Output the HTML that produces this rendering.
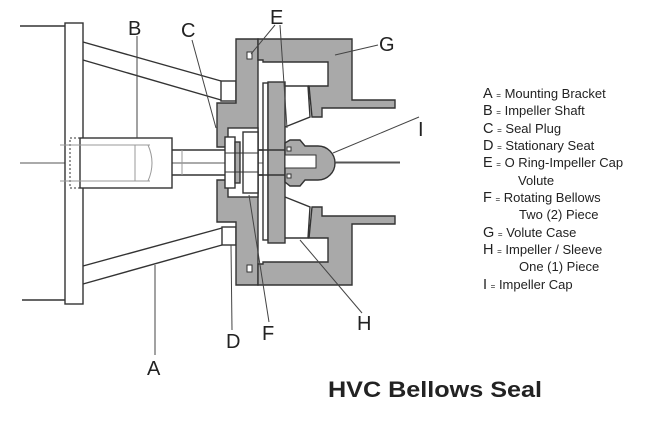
<!DOCTYPE html>
<html><head><meta charset="utf-8"><style>
html,body{margin:0;padding:0;background:#fff;}
svg{display:block;}
text{font-family:"Liberation Sans",sans-serif;fill:#222;}
</style></head><body>
<svg width="650" height="422" viewBox="0 0 650 422" xmlns="http://www.w3.org/2000/svg">
<g stroke="#333" stroke-width="1.4" fill="none">
<line x1="20" y1="163" x2="400" y2="163" stroke="#555" stroke-width="1"/>
<line x1="20" y1="26" x2="65" y2="26"/>
<line x1="22" y1="300" x2="65" y2="300"/>
<rect x="65" y="23" width="18" height="281" fill="#fff"/>
<line x1="83" y1="42" x2="221" y2="81"/>
<line x1="83" y1="60" x2="221" y2="100"/>
<line x1="83" y1="266" x2="222" y2="228"/>
<line x1="83" y1="284" x2="222" y2="245"/>
<rect x="221" y="81" width="15" height="20" fill="#fff"/>
<rect x="222" y="227" width="14" height="18" fill="#fff"/>
<rect x="80" y="138" width="92" height="50" fill="#fff"/>
<rect x="70" y="138" width="10" height="50" stroke-dasharray="2,2" stroke-width="1"/>
<line x1="60" y1="145" x2="150" y2="145" stroke="#999" stroke-width="1"/>
<line x1="60" y1="181" x2="150" y2="181" stroke="#999" stroke-width="1"/>
<line x1="135" y1="145" x2="135" y2="181" stroke="#999" stroke-width="1"/>
<path d="M148 145 Q156 163 148 181" stroke="#999" stroke-width="1"/>
<line x1="172" y1="150" x2="290" y2="150"/>
<line x1="172" y1="175" x2="290" y2="175"/>
<line x1="182" y1="150" x2="182" y2="175" stroke="#999" stroke-width="1"/>
<polygon fill="#a9a9a9" points="236,39 258,39 258,285 236,285 236,222 217,222 217,180 226,180 226,147 217,147 217,103 236,103"/>
<rect x="228" y="128" width="30" height="69" fill="#fff"/>
<rect x="225" y="137" width="10" height="51" fill="#fff"/>
<rect x="235" y="142" width="5" height="41" fill="#a9a9a9"/>
<rect x="243" y="132" width="15" height="61" fill="#fff"/>
<line x1="225" y1="153" x2="258" y2="153" stroke-width="1"/>
<line x1="225" y1="172" x2="258" y2="172" stroke-width="1"/>
<polygon fill="#a9a9a9" points="258,39 352,39 352,100 395,100 395,108 322,108 322,117 312,117 309,86 328,86 328,62 263,62 263,60 258,60"/>
<polygon fill="#a9a9a9" points="258,285 352,285 352,224 395,224 395,216 322,216 322,207 312,207 309,238 328,238 328,262 263,262 263,264 258,264"/>
<rect x="247" y="52" width="5" height="7" fill="#fff" stroke-width="1"/>
<rect x="247" y="265" width="5" height="7" fill="#fff" stroke-width="1"/>
<rect x="263" y="83" width="5" height="157" fill="#fff"/>
<rect x="268" y="82" width="17" height="161" fill="#a9a9a9"/>
<polyline points="285,86 308,86 310,117 285,127"/>
<polyline points="285,238 308,238 310,207 285,197"/>
<line x1="258" y1="150" x2="290" y2="150"/>
<line x1="258" y1="175" x2="290" y2="175"/>
<path fill="#a9a9a9" d="M285 143 L290 140 L300 140 L305 146 L318 146 A17 17 0 0 1 318 180 L305 180 L300 186 L290 186 L285 182 Z"/>
<rect x="285" y="155" width="31" height="13" fill="#fff" stroke-width="1"/>
<rect x="287" y="147" width="4" height="4" fill="#fff" stroke-width="1"/>
<rect x="287" y="174" width="4" height="4" fill="#fff" stroke-width="1"/>
<line x1="335" y1="162" x2="400" y2="162" stroke="#555" stroke-width="1"/>
<g stroke="#444" stroke-width="1">
<line x1="137" y1="36" x2="137" y2="138"/>
<line x1="192" y1="40" x2="216" y2="128"/>
<line x1="275" y1="25" x2="251" y2="54"/>
<line x1="280" y1="25" x2="287" y2="128"/>
<line x1="378" y1="45" x2="335" y2="55"/>
<line x1="419" y1="117" x2="333" y2="153"/>
<line x1="155" y1="355" x2="155" y2="265"/>
<line x1="232" y1="330" x2="231" y2="245"/>
<line x1="269" y1="322" x2="249" y2="195"/>
<line x1="362" y1="313" x2="300" y2="240"/>
</g>
</g>
<g font-size="20">
<text x="128" y="35">B</text>
<text x="181" y="37">C</text>
<text x="270" y="24">E</text>
<text x="379" y="51">G</text>
<text x="418" y="136">I</text>
<text x="147" y="375">A</text>
<text x="226" y="348">D</text>
<text x="262" y="340">F</text>
<text x="357" y="330">H</text>
</g>
<g font-size="13">
<text x="483" y="98"><tspan font-size="14.5">A</tspan> <tspan font-size="8">=</tspan> Mounting Bracket</text>
<text x="483" y="115"><tspan font-size="14.5">B</tspan> <tspan font-size="8">=</tspan> Impeller Shaft</text>
<text x="483" y="133"><tspan font-size="14.5">C</tspan> <tspan font-size="8">=</tspan> Seal Plug</text>
<text x="483" y="150"><tspan font-size="14.5">D</tspan> <tspan font-size="8">=</tspan> Stationary Seat</text>
<text x="483" y="167"><tspan font-size="14.5">E</tspan> <tspan font-size="8">=</tspan> O Ring-Impeller Cap</text>
<text x="518" y="185">Volute</text>
<text x="483" y="202"><tspan font-size="14.5">F</tspan> <tspan font-size="8">=</tspan> Rotating Bellows</text>
<text x="519" y="219">Two (2) Piece</text>
<text x="483" y="237"><tspan font-size="14.5">G</tspan> <tspan font-size="8">=</tspan> Volute Case</text>
<text x="483" y="254"><tspan font-size="14.5">H</tspan> <tspan font-size="8">=</tspan> Impeller / Sleeve</text>
<text x="519" y="271">One (1) Piece</text>
<text x="483" y="289"><tspan font-size="14.5">I</tspan> <tspan font-size="8">=</tspan> Impeller Cap</text>
</g>
<text x="328" y="397" font-size="22" font-weight="bold" textLength="214" lengthAdjust="spacingAndGlyphs">HVC Bellows Seal</text>
</svg>
</body></html>
